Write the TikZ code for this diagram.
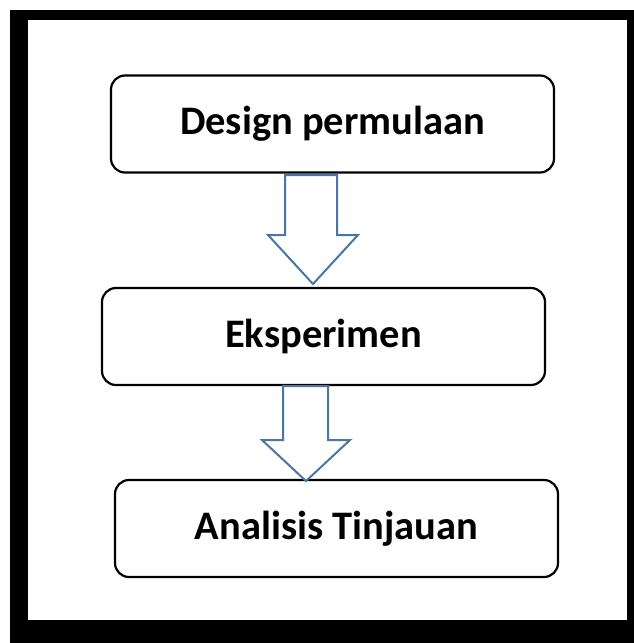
\documentclass[tikz,border=0pt]{standalone}
\usepackage{fontspec}
\setmainfont{Carlito}
\definecolor{arrowblue}{RGB}{74,118,164}
\begin{document}
\begin{tikzpicture}[x=1pt,y=-1pt,
  box/.style={draw=black,line width=2.2pt,rounded corners=14pt,fill=white,
    minimum width=443pt,minimum height=97pt,inner sep=0pt,
    font=\fontsize{40.5}{44}\selectfont\bfseries},
  blockarrow/.style={draw=arrowblue,line width=2pt,fill=white,line join=miter}]
\useasboundingbox (0,0) rectangle (634,643);
\fill[white] (0,0) rectangle (634,643);
\fill[black] (10,10) rectangle (634,643);
\fill[white] (28,20) rectangle (627,620);
\node[box] (b1) at (332.5,124) {Design permulaan};
\node[box] (b2) at (323.5,336.5) {Eksperimen};
\node[box] (b3) at (336.5,528.5) {Analisis Tinjauan};
\draw[blockarrow] (285,175) -- (337,175) -- (337,235) -- (358,235) -- (313,284)
  -- (268,235) -- (285,235) -- cycle;
\draw[blockarrow] (283,386) -- (328,386) -- (328,440) -- (350,440) -- (306,481)
  -- (262,440) -- (283,440) -- cycle;
\end{tikzpicture}
\end{document}
